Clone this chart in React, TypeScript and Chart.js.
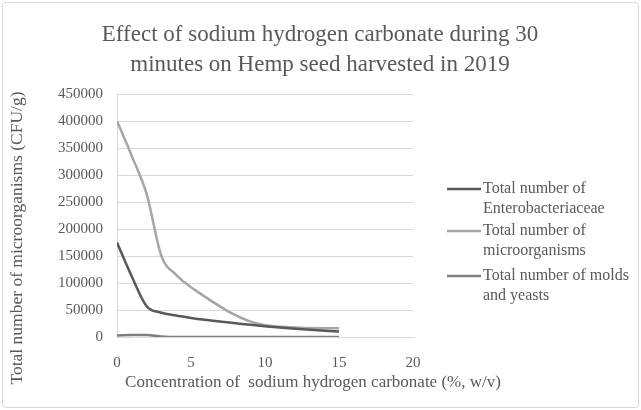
import React, { useEffect, useRef } from "react";
import { Chart, registerables } from "chart.js";

Chart.register(...registerables);

const concentrations = [0, 1, 2, 3, 4, 5, 10, 15];
const enterobacteriaceae = [175000, 112000, 57000, 45000, 40000, 35000, 20000, 10000];
const microorganisms = [400000, 335000, 265000, 150000, 115000, 92000, 22000, 16000];
const moldsYeasts = [3000, 3500, 3500, 1000, 0, 0, 0, 0];
const seriesNames = [
  ["Total number of", "Enterobacteriaceae"],
  ["Total number of", "microorganisms"],
  ["Total number of molds", "and yeasts"],
];
const titleLines = [
  "Effect of sodium hydrogen carbonate during 30",
  "minutes on Hemp seed harvested in 2019",
];
const xTitle = "Concentration of  sodium hydrogen carbonate (%, w/v)";
const yTitle = "Total number of microorganisms (CFU/g)";

const FONT = "'Liberation Serif', 'Times New Roman', serif";
const TEXT = "#595959";

export default function App() {
  const ref = useRef<HTMLCanvasElement | null>(null);
  useEffect(() => {
    document.body.style.margin = "0";
    const ctx = ref.current!;
    const toXY = (arr: number[]) => arr.map((v, i) => ({ x: concentrations[i], y: v }));
    const custom = {
      id: "custom",
      afterDraw(chart: any) {
        const c = chart.ctx;
        c.save();
        c.fillStyle = TEXT;
        c.textAlign = "center";
        c.textBaseline = "middle";
        c.font = `23px ${FONT}`;
        c.fillText(titleLines[0], 320, 35);
        c.fillText(titleLines[1], 320, 65);
        // axis titles
        c.font = `17px ${FONT}`;
        c.fillText(xTitle, 313, 383);
        c.save();
        c.translate(17, 238);
        c.rotate(-Math.PI / 2);
        c.font = `17.5px ${FONT}`;
        c.fillText(yTitle, 0, 0);
        c.restore();
        // legend
        c.font = `16px ${FONT}`;
        c.textAlign = "left";
        const starts = [189, 231, 276];
        chart.data.datasets.forEach((ds: any, i: number) => {
          const y = starts[i];
          c.strokeStyle = ds.borderColor;
          c.lineWidth = 2.5;
          c.beginPath();
          c.moveTo(447, y);
          c.lineTo(481, y);
          c.stroke();
          seriesNames[i].forEach((t, j) => c.fillText(t, 483, y + j * 20));
        });
        c.restore();
      },
    };
    const chart = new Chart(ctx, {
      type: "line",
      data: {
        datasets: [
          { label: seriesNames[0].join(" "), data: toXY(enterobacteriaceae), borderColor: "#595959" },
          { label: seriesNames[1].join(" "), data: toXY(microorganisms), borderColor: "#a6a6a6" },
          { label: seriesNames[2].join(" "), data: toXY(moldsYeasts), borderColor: "#7f7f7f" },
        ].map((d) => ({
          ...d,
          borderWidth: 2.5,
          pointRadius: 0,
          fill: false,
          cubicInterpolationMode: "monotone" as const,
        })),
      },
      options: {
        animation: false,
        responsive: false,
        layout: { padding: { top: 94, left: 8, right: 228, bottom: 14 } },
        plugins: { legend: { display: false }, title: { display: false }, tooltip: { enabled: false } },
        scales: {
          x: {
            type: "linear",
            min: 0,
            max: 20,
            ticks: { stepSize: 5, color: TEXT, font: { family: FONT, size: 15 }, padding: 9 },
            grid: { display: false },
            border: { color: "#d9d9d9" },
            afterFit: (s: any) => { s.height = 410 - 337 - 14; },
          },
          y: {
            min: 0,
            max: 450000,
            ticks: {
              stepSize: 50000,
              color: TEXT,
              font: { family: FONT, size: 15 },
              padding: 14,
              callback: (v: any) => String(v),
            },
            grid: { color: "#d9d9d9", drawTicks: false },
            border: { color: "#d9d9d9" },
            afterFit: (s: any) => { s.width = 117 - 8; },
          },
        },
      },
      plugins: [custom],
    });
    return () => chart.destroy();
  }, []);
  return (
    <div style={{ position: "relative", width: 641, height: 410 }}>
      <canvas ref={ref} width={641} height={410} style={{ display: "block" }} />
      <div
        style={{
          position: "absolute",
          left: 2,
          top: 2,
          width: 635,
          height: 404,
          border: "1px solid #d9d9d9",
          borderRadius: 4,
          pointerEvents: "none",
        }}
      />
    </div>
  );
}
